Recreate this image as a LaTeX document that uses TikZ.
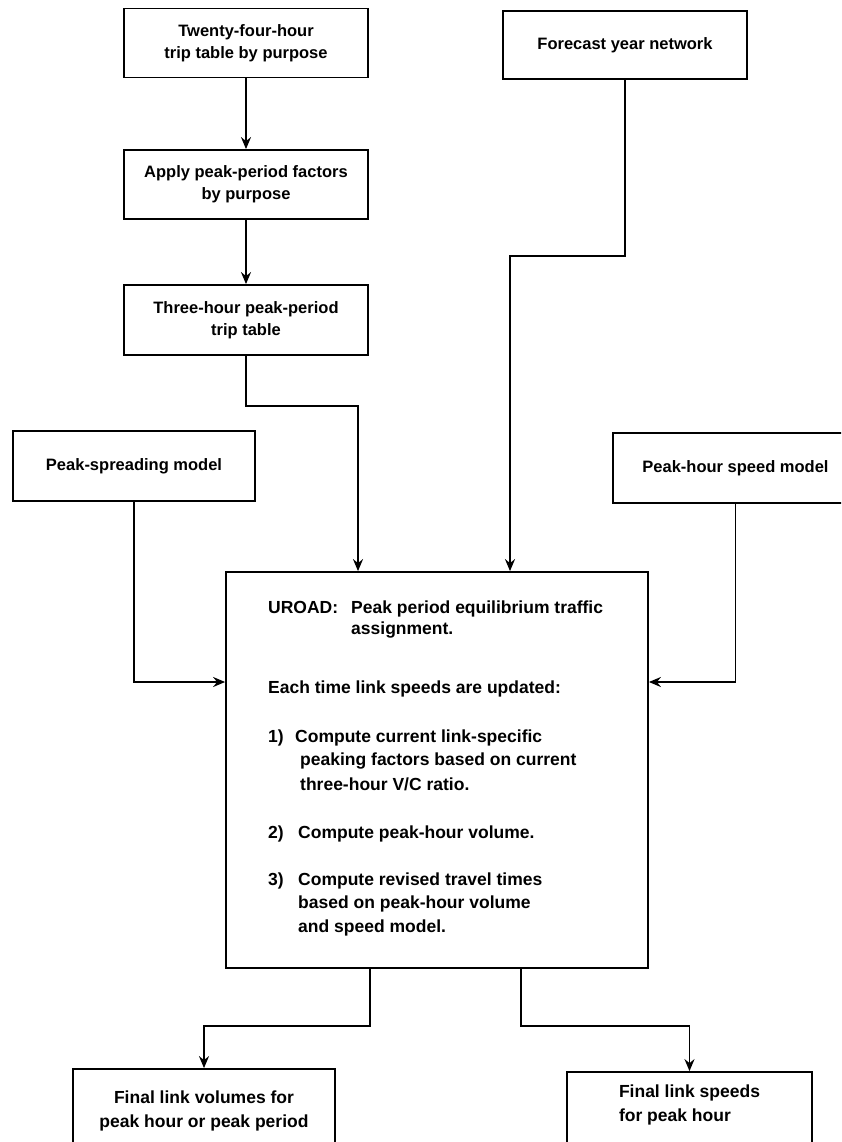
\documentclass[tikz,border=0pt]{standalone}
\usepackage{fontspec}
\setmainfont{Liberation Sans}
\usetikzlibrary{arrows.meta}
\newcommand\boxfont{\bfseries\fontsize{16.5}{22}\selectfont}
\newcommand\bodyfont{\bfseries\fontsize{17.5}{23.5}\selectfont}
\begin{document}
\begin{tikzpicture}[x=1pt,y=-1pt,
  box/.style={draw, line width=1.8pt, rectangle, inner sep=0pt, align=center, font=\boxfont},
  link/.style={line width=1.8pt, -{Stealth[length=12pt,width=10pt,inset=4pt]}},
  txt/.style={anchor=base west, inner sep=0pt, font=\bodyfont}]
\clip (0,0) rectangle (841,1142);
\fill[white] (0,0) rectangle (841,1142);

% input boxes
\node[box, minimum width=244pt, minimum height=69pt] (daily) at (246,43) {Twenty-four-hour\\trip table by purpose};
\node[box, minimum width=244pt, minimum height=68pt] (forecast) at (625,45) {Forecast year network};
\node[box, minimum width=244pt, minimum height=69pt] (apply) at (246,184.5) {Apply peak-period factors\\by purpose};
\node[box, minimum width=244pt, minimum height=70pt] (three) at (246,320) {Three-hour peak-period\\trip table};
\node[box, minimum width=242pt, minimum height=70pt] (spread) at (134,466) {Peak-spreading model};
\node[box, minimum width=245pt, minimum height=70pt] (speed) at (735.5,468) {Peak-hour speed model};

% assignment box
\node[draw, line width=1.8pt, minimum width=422pt, minimum height=396pt, inner sep=0pt] (uroad) at (437,770) {};
\node[txt] (u1) at (268,613) {UROAD:};
\node[txt] (u2) at (351,613) {Peak period equilibrium traffic};
\node[txt] (u3) at (351,634) {assignment.};
\node[txt] (u4) at (268,693) {Each time link speeds are updated:};
\node[txt] (s1) at (268,742) {1)};
\node[txt] (s1a) at (295,742) {Compute current link-specific};
\node[txt] (s1b) at (300,765) {peaking factors based on current};
\node[txt] (s1c) at (300,790) {three-hour V/C ratio.};
\node[txt] (s2) at (268,838) {2)};
\node[txt] (s2a) at (298,838) {Compute peak-hour volume.};
\node[txt] (s3) at (268,885) {3)};
\node[txt] (s3a) at (298,885) {Compute revised travel times};
\node[txt] (s3b) at (298,908) {based on peak-hour volume};
\node[txt] (s3c) at (298,932) {and speed model.};

% output boxes (they run past the lower edge)
\node[box, minimum width=262pt, minimum height=100pt] (vols) at (204,1119) {};
\node[anchor=north, inner sep=0pt, align=center, font=\bodyfont] (volstext) at ([yshift=-23pt]vols.north) {Final link volumes for\\peak hour or peak period};
\node[box, minimum width=245pt, minimum height=100pt] (spd) at (689.5,1122) {};
\node[anchor=north, inner sep=0pt, align=left, font=\bodyfont] (spdtext) at ([yshift=-14pt]spd.north) {Final link speeds\\for peak hour};

% connectors
\draw[link] (daily) -- (apply);
\draw[link] (apply) -- (three);
\draw[link] (three.south) -- ++(0,50) -| ([xshift=-79pt]uroad.north);
\draw[link] (forecast.south) -- ++(0,176) -| ([xshift=73pt]uroad.north);
\draw[link] (spread.south) |- ([yshift=88pt]uroad.west);
\draw[link] (speed.south) |- ([yshift=88pt]uroad.east);
\draw[link] ([xshift=-67pt]uroad.south) -- ++(0,57) -| (vols.north);
\draw[link] ([xshift=84pt]uroad.south) -- ++(0,57) -| (spd.north);
\end{tikzpicture}
\end{document}
